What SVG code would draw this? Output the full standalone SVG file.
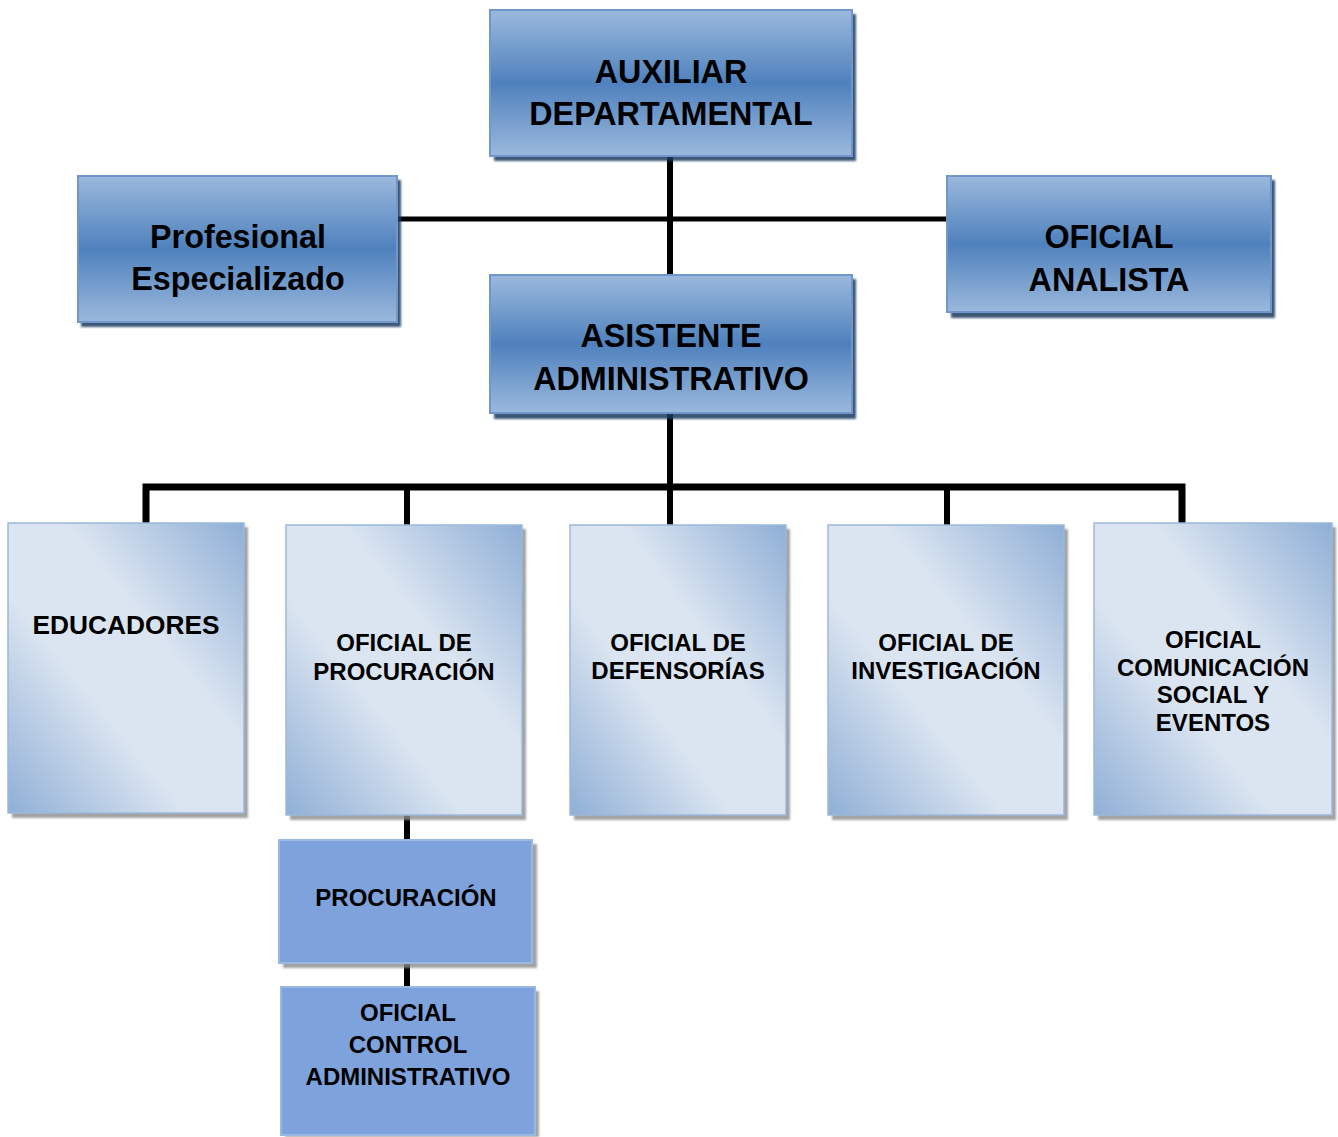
<svg xmlns="http://www.w3.org/2000/svg" width="1338" height="1137" viewBox="0 0 1338 1137">
<defs>
<linearGradient id="gTop" x1="0" y1="0" x2="0" y2="1">
<stop offset="0" stop-color="#9bb9dd"/>
<stop offset="0.5" stop-color="#4f81bd"/>
<stop offset="1" stop-color="#9bb9dd"/>
</linearGradient>
<linearGradient id="gLow" x1="1" y1="0" x2="0" y2="1">
<stop offset="0" stop-color="#8fafd6"/>
<stop offset="0.38" stop-color="#dbe5f1"/>
<stop offset="0.62" stop-color="#dbe5f1"/>
<stop offset="1" stop-color="#8fafd6"/>
</linearGradient>
<filter id="blur" x="-5%" y="-5%" width="110%" height="110%"><feGaussianBlur stdDeviation="1.2"/></filter>
</defs>
<style>
.top{fill:url(#gTop);stroke:#6f97cc;stroke-width:2}
.topsh{fill:#1f3a60;opacity:0.85}
.low{fill:url(#gLow);stroke:#9cb8dc;stroke-width:1.5}
.solid{fill:#7ea3dc;stroke:#9ab8e2;stroke-width:2}
.sh{fill:#8c8c8c;opacity:0.8}
.t{font-family:"Liberation Sans",Arial,sans-serif;font-weight:bold;fill:#000;text-anchor:middle}
.big{font-size:32.3px}
.mid{font-size:24px}
.edu{font-size:26.3px}
.c{fill:none;stroke:#000;stroke-linejoin:miter;stroke-linecap:butt}
</style>

<g id="connectors">
<path class="c" stroke-width="6" d="M670,157 V275"/>
<path class="c" stroke-width="5" d="M397,219 H947"/>
<path class="c" stroke-width="6" d="M670,413 V487"/>
<path class="c" stroke-width="7" d="M146,523 V487 H1182 V523"/>
<path class="c" stroke-width="6" d="M407,487 V525"/>
<path class="c" stroke-width="6" d="M670,487 V525"/>
<path class="c" stroke-width="6" d="M947,487 V525"/>
<path class="c" stroke-width="6" d="M407,815 V840"/>
<path class="c" stroke-width="6" d="M407,963 V987"/>
</g>

<g id="auxiliar">
<rect class="topsh" x="494" y="14" width="362" height="147" filter="url(#blur)"/>
<rect class="top" x="490" y="10" width="362" height="146"/>
<text class="t big" x="671" y="83">AUXILIAR</text>
<text class="t big" x="671" y="125">DEPARTAMENTAL</text>
</g>

<g id="profesional">
<rect class="topsh" x="81" y="180" width="320" height="147" filter="url(#blur)"/>
<rect class="top" x="78" y="176" width="319" height="146"/>
<text class="t big" x="238" y="248">Profesional</text>
<text class="t big" x="238" y="290">Especializado</text>
</g>

<g id="oficial-analista">
<rect class="topsh" x="951" y="180" width="324" height="138" filter="url(#blur)"/>
<rect class="top" x="947" y="176" width="324" height="136"/>
<text class="t big" x="1109" y="248">OFICIAL</text>
<text class="t big" x="1109" y="291">ANALISTA</text>
</g>

<g id="asistente">
<rect class="topsh" x="494" y="279" width="362" height="140" filter="url(#blur)"/>
<rect class="top" x="490" y="275" width="362" height="138"/>
<text class="t big" x="671" y="347">ASISTENTE</text>
<text class="t big" x="671" y="390">ADMINISTRATIVO</text>
</g>

<g id="educadores">
<rect class="sh" x="12" y="527" width="236" height="291" filter="url(#blur)"/>
<rect class="low" x="8" y="523" width="236" height="290"/>
<text class="t edu" x="126" y="634">EDUCADORES</text>
</g>

<g id="oficial-procuracion">
<rect class="sh" x="290" y="529" width="236" height="291" filter="url(#blur)"/>
<rect class="low" x="286" y="525" width="236" height="290"/>
<text class="t mid" x="404" y="651">OFICIAL DE</text>
<text class="t mid" x="404" y="680">PROCURACIÓN</text>
</g>

<g id="oficial-defensorias">
<rect class="sh" x="574" y="529" width="216" height="291" filter="url(#blur)"/>
<rect class="low" x="570" y="525" width="216" height="290"/>
<text class="t mid" x="678" y="651">OFICIAL DE</text>
<text class="t mid" x="678" y="679">DEFENSORÍAS</text>
</g>

<g id="oficial-investigacion">
<rect class="sh" x="832" y="529" width="236" height="291" filter="url(#blur)"/>
<rect class="low" x="828" y="525" width="236" height="290"/>
<text class="t mid" x="946" y="651">OFICIAL DE</text>
<text class="t mid" x="946" y="679">INVESTIGACIÓN</text>
</g>

<g id="oficial-comunicacion">
<rect class="sh" x="1098" y="527" width="238" height="293" filter="url(#blur)"/>
<rect class="low" x="1094" y="523" width="238" height="292"/>
<text class="t mid" x="1213" y="648">OFICIAL</text>
<text class="t mid" x="1213" y="676">COMUNICACIÓN</text>
<text class="t mid" x="1213" y="703">SOCIAL Y</text>
<text class="t mid" x="1213" y="731">EVENTOS</text>
</g>

<g id="procuracion">
<rect class="sh" x="283" y="844" width="254" height="124" filter="url(#blur)"/>
<rect class="solid" x="279" y="840" width="253" height="123"/>
<text class="t mid" x="406" y="906">PROCURACIÓN</text>
</g>

<g id="oficial-control">
<rect class="sh" x="285" y="991" width="254" height="146" filter="url(#blur)"/>
<rect class="solid" x="281" y="987" width="254" height="148"/>
<text class="t mid" x="408" y="1021">OFICIAL</text>
<text class="t mid" x="408" y="1053">CONTROL</text>
<text class="t mid" x="408" y="1085">ADMINISTRATIVO</text>
</g>
</svg>
